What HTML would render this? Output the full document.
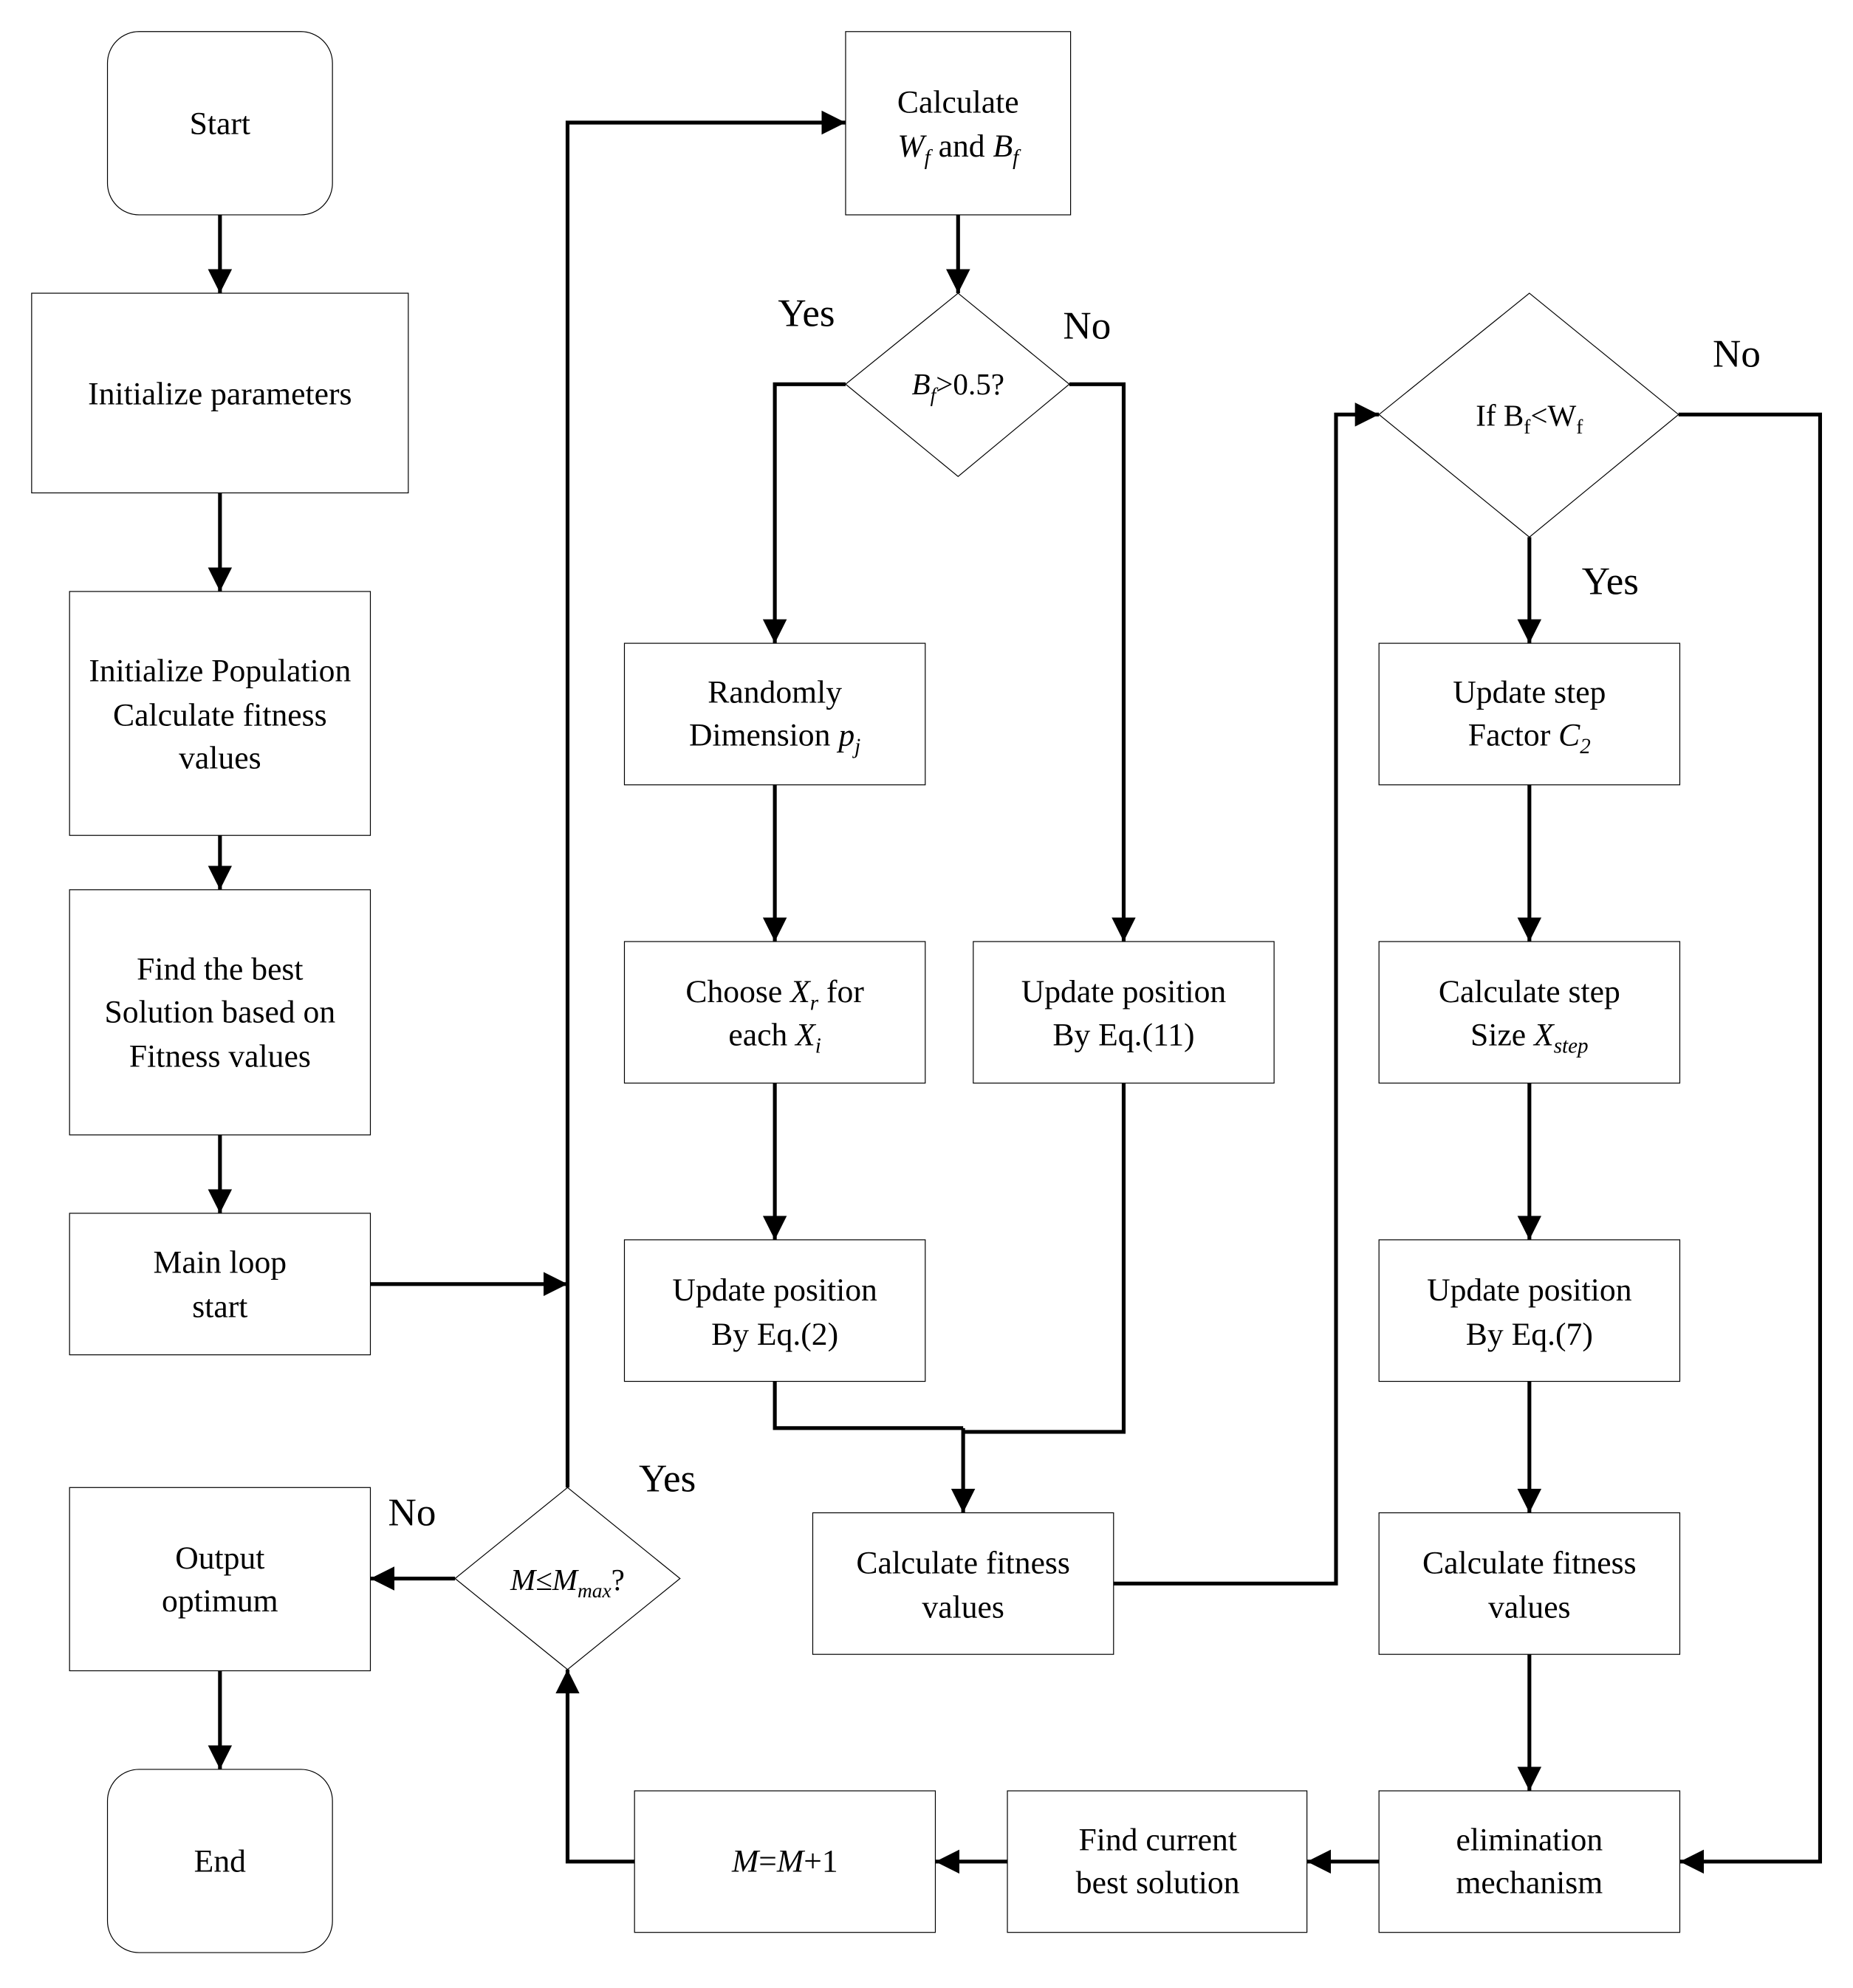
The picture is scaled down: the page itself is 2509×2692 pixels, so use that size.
<!DOCTYPE html>
<html><head><meta charset="utf-8"><style>html,body{margin:0;padding:0;background:#fff}svg{display:block}text{font-family:"Liberation Serif","DejaVu Serif",serif}</style></head>
<body>
<svg xmlns="http://www.w3.org/2000/svg" width="2509" height="2692" viewBox="0 0 1466 1573">
<defs>
<marker id="a" markerWidth="20" markerHeight="20" refX="19" refY="9.5" orient="auto" markerUnits="userSpaceOnUse">
<path d="M0,0 L19,9.5 L0,19 Z" fill="#000"/>
</marker>
</defs>
<rect width="1466" height="1573" fill="#fff"/>
<g fill="#fff" stroke="#000" stroke-width="0.7">
<rect x="85" y="25" width="178" height="145" rx="25"/>
<rect x="25" y="232" width="298" height="158"/>
<rect x="55" y="468" width="238" height="193"/>
<rect x="55" y="704" width="238" height="194"/>
<rect x="55" y="960" width="238" height="112"/>
<rect x="55" y="1177" width="238" height="145"/>
<rect x="85" y="1400" width="178" height="145" rx="25"/>
<rect x="669" y="25" width="178" height="145"/>
<rect x="494" y="509" width="238" height="112"/>
<rect x="494" y="745" width="238" height="112"/>
<rect x="494" y="981" width="238" height="112"/>
<rect x="770" y="745" width="238" height="112"/>
<rect x="643" y="1197" width="238" height="112"/>
<rect x="1091" y="509" width="238" height="112"/>
<rect x="1091" y="745" width="238" height="112"/>
<rect x="1091" y="981" width="238" height="112"/>
<rect x="1091" y="1197" width="238" height="112"/>
<rect x="1091" y="1417" width="238" height="112"/>
<rect x="797" y="1417" width="237" height="112"/>
<rect x="502" y="1417" width="238" height="112"/>
<polygon points="758,232 846,304 758,377 669,304"/>
<polygon points="1210,232 1328,328 1210,425 1091,328"/>
<polygon points="449,1177 538,1249 449,1321 360,1249"/>
</g>
<g fill="none" stroke="#000" stroke-width="3">
<path d="M174,170 V232" marker-end="url(#a)"/>
<path d="M174,390 V468" marker-end="url(#a)"/>
<path d="M174,661 V704" marker-end="url(#a)"/>
<path d="M174,898 V960" marker-end="url(#a)"/>
<path d="M174,1322 V1400" marker-end="url(#a)"/>
<path d="M293,1016 H449" marker-end="url(#a)"/>
<path d="M449,1177 V97 H669" marker-end="url(#a)"/>
<path d="M360,1249 H293" marker-end="url(#a)"/>
<path d="M502,1473 H449 V1321" marker-end="url(#a)"/>
<path d="M797,1473 H740" marker-end="url(#a)"/>
<path d="M1091,1473 H1034" marker-end="url(#a)"/>
<path d="M758,170 V232" marker-end="url(#a)"/>
<path d="M669,304 H613 V509" marker-end="url(#a)"/>
<path d="M846,304 H889 V745" marker-end="url(#a)"/>
<path d="M613,621 V745" marker-end="url(#a)"/>
<path d="M613,857 V981" marker-end="url(#a)"/>
<path d="M613,1093 V1130 H762"/>
<path d="M889,857 V1133 H762"/>
<path d="M762,1130 V1197" marker-end="url(#a)"/>
<path d="M881,1253 H1057 V328 H1091" marker-end="url(#a)"/>
<path d="M1328,328 H1440 V1473 H1329" marker-end="url(#a)"/>
<path d="M1210,425 V509" marker-end="url(#a)"/>
<path d="M1210,621 V745" marker-end="url(#a)"/>
<path d="M1210,857 V981" marker-end="url(#a)"/>
<path d="M1210,1093 V1197" marker-end="url(#a)"/>
<path d="M1210,1309 V1417" marker-end="url(#a)"/>
</g>
<g font-size="25.5" text-anchor="middle" fill="#000">
<text x="174" y="106">Start</text>
<text x="174" y="320">Initialize parameters</text>
<text x="174" y="539">Initialize Population</text>
<text x="174" y="574">Calculate fitness</text>
<text x="174" y="608">values</text>
<text x="174" y="775">Find the best</text>
<text x="174" y="809">Solution based on</text>
<text x="174" y="844">Fitness values</text>
<text x="174" y="1007">Main loop</text>
<text x="174" y="1042">start</text>
<text x="174" y="1241">Output</text>
<text x="174" y="1275">optimum</text>
<text x="174" y="1481">End</text>
<text x="758" y="89">Calculate</text>
<text x="758" y="124"><tspan font-style="italic">W<tspan font-size="17" dy="6">f</tspan></tspan><tspan dy="-6"> and </tspan><tspan font-style="italic">B<tspan font-size="17" dy="6">f</tspan></tspan></text>
<text x="758" y="312" font-size="24"><tspan font-style="italic">B<tspan font-size="16" dy="6">f</tspan></tspan><tspan dy="-6">&gt;0.5?</tspan></text>
<text x="1210" y="337" font-size="24">If B<tspan font-size="16" dy="6">f</tspan><tspan dy="-6">&lt;W</tspan><tspan font-size="16" dy="6">f</tspan></text>
<text x="449" y="1258" font-size="24"><tspan font-style="italic">M</tspan>≤<tspan font-style="italic">M<tspan font-size="16" dy="6">max</tspan></tspan><tspan dy="-6">?</tspan></text>
<text x="613" y="556">Randomly</text>
<text x="613" y="590">Dimension <tspan font-style="italic">p<tspan font-size="17" dy="6">j</tspan></tspan></text>
<text x="613" y="793">Choose <tspan font-style="italic">X<tspan font-size="17" dy="6">r</tspan></tspan><tspan dy="-6"> for</tspan></text>
<text x="613" y="827">each <tspan font-style="italic">X<tspan font-size="17" dy="6">i</tspan></tspan></text>
<text x="613" y="1029">Update position</text>
<text x="613" y="1064">By Eq.(2)</text>
<text x="889" y="793">Update position</text>
<text x="889" y="827">By Eq.(11)</text>
<text x="762" y="1245">Calculate fitness</text>
<text x="762" y="1280">values</text>
<text x="1210" y="556">Update step</text>
<text x="1210" y="590">Factor <tspan font-style="italic">C<tspan font-size="17" dy="6">2</tspan></tspan></text>
<text x="1210" y="793">Calculate step</text>
<text x="1210" y="827">Size <tspan font-style="italic">X<tspan font-size="17" dy="6">step</tspan></tspan></text>
<text x="1210" y="1029">Update position</text>
<text x="1210" y="1064">By Eq.(7)</text>
<text x="1210" y="1245">Calculate fitness</text>
<text x="1210" y="1280">values</text>
<text x="1210" y="1464">elimination</text>
<text x="1210" y="1498">mechanism</text>
<text x="916" y="1464">Find current</text>
<text x="916" y="1498">best solution</text>
<text x="621" y="1481"><tspan font-style="italic">M</tspan>=<tspan font-style="italic">M</tspan>+1</text>
</g>
<g font-size="31" text-anchor="middle" fill="#000">
<text x="638" y="258">Yes</text>
<text x="860" y="268">No</text>
<text x="1374" y="290">No</text>
<text x="1274" y="470">Yes</text>
<text x="528" y="1180">Yes</text>
<text x="326" y="1207">No</text>
</g>
</svg>
</body></html>
